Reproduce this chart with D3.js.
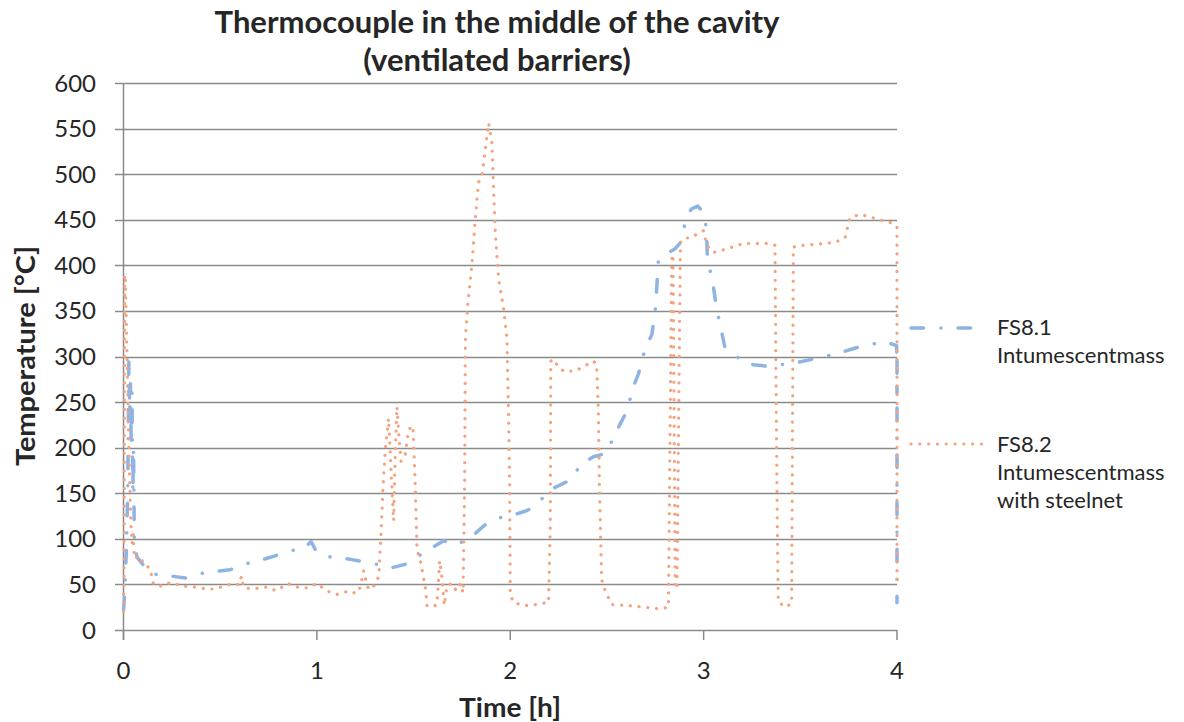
<!DOCTYPE html>
<html>
<head>
<meta charset="utf-8">
<script src="https://cdn.jsdelivr.net/npm/d3@7/dist/d3.min.js"></script>
<style>
  html, body { margin: 0; padding: 0; background: #ffffff; }
  svg { display: block; }
  text { font-family: Lato, "Open Sans", sans-serif; fill: #262626; }
</style>
</head>
<body>
<svg id="chart" width="1184" height="722"></svg>
<script>
// Axis ticks
const timeTicks = [0, 1, 2, 3, 4];
const tempTicks = [0, 50, 100, 150, 200, 250, 300, 350, 400, 450, 500, 550, 600];

// FS8.1 Intumescentmass (time in hours, temperature in °C)
const fs81Time = [0, 0.005, 0.01, 0.015, 0.022, 0.028, 0.032, 0.036, 0.04, 0.044, 0.048, 0.052, 0.056,
  0.06, 0.07, 0.1, 0.14, 0.2, 0.25, 0.32, 0.4, 0.47, 0.55, 0.64, 0.7, 0.78, 0.86, 0.93, 0.97,
  1.0, 1.07, 1.16, 1.24, 1.31, 1.38, 1.457, 1.5, 1.578, 1.655, 1.716, 1.793, 1.862, 1.914,
  2.0, 2.086, 2.138, 2.198, 2.276, 2.319, 2.361, 2.43, 2.5, 2.534, 2.603, 2.637, 2.663, 2.697,
  2.732, 2.749, 2.758, 2.766, 2.8, 2.852, 2.88, 2.913, 2.938, 2.97, 3.007, 3.016, 3.02, 3.045,
  3.065, 3.09, 3.11, 3.154, 3.2, 3.257, 3.344, 3.395, 3.472, 3.584, 3.705, 3.826, 3.938, 3.998,
  4.0, 4.0, 4.0, 4.0];
const fs81Temp = [22, 35, 60, 90, 150, 300, 240, 270, 200, 260, 150, 200, 100,
  90, 80, 72, 62, 60, 59, 57, 62, 64, 66, 73, 76, 81, 87, 89, 97,
  85, 80, 78, 75, 72, 68, 72, 78, 88, 98, 93, 101, 114, 122,
  125, 131, 137, 153, 161, 165, 181, 190, 194, 212, 240, 267, 281, 308,
  324, 348, 377, 405, 412, 418, 425, 454, 462, 465, 456, 430, 405, 385,
  355, 330, 310, 304, 294, 291, 289, 291, 293, 298, 304, 312, 316, 312,
  260, 300, 150, 30];

// FS8.2 Intumescentmass with steelnet
const fs82Time = [0, 0.003, 0.006, 0.01, 0.015, 0.02, 0.025, 0.03, 0.035, 0.04, 0.045, 0.05, 0.055,
  0.06, 0.07, 0.08, 0.1, 0.12, 0.137, 0.155, 0.2, 0.24, 0.31, 0.37, 0.43, 0.47, 0.55, 0.6, 0.61,
  0.62, 0.66, 0.74, 0.79, 0.85, 0.9, 0.95, 1.0, 1.05, 1.104, 1.139, 1.164, 1.204, 1.225, 1.242,
  1.26, 1.273, 1.302, 1.32, 1.332, 1.342, 1.354, 1.371, 1.385, 1.397, 1.405, 1.414, 1.425, 1.435,
  1.457, 1.475, 1.497, 1.509, 1.518, 1.535, 1.561, 1.569, 1.595, 1.621, 1.635, 1.647, 1.659, 1.673,
  1.699, 1.721, 1.742, 1.756, 1.764, 1.768, 1.78, 1.802, 1.819, 1.836, 1.854, 1.871, 1.888, 1.905,
  1.914, 1.923, 1.94, 1.966, 1.983, 1.991, 1.997, 2.0, 2.017, 2.069, 2.112, 2.155, 2.198, 2.207,
  2.21, 2.224, 2.25, 2.284, 2.344, 2.361, 2.43, 2.447, 2.456, 2.461, 2.473, 2.491, 2.525, 2.603,
  2.689, 2.775, 2.818, 2.835, 2.842, 2.853, 2.862, 2.88, 2.9, 2.93, 2.964, 2.999, 3.016, 3.05,
  3.119, 3.205, 3.326, 3.369, 3.374, 3.381, 3.386, 3.421, 3.455, 3.46, 3.464, 3.516, 3.636, 3.688,
  3.731, 3.757, 3.808, 3.894, 3.98, 4.0, 4.0];
const fs82Temp = [20, 60, 390, 385, 330, 280, 230, 180, 140, 110, 95, 105, 85,
  78, 80, 75, 76, 70, 68, 50, 48, 52, 48, 47, 45, 45, 50, 50, 59,
  47, 45, 47, 43, 51, 47, 46, 51, 43, 39, 41, 43, 40, 47, 65,
  48, 44, 50, 59, 108, 157, 198, 232, 170, 120, 190, 245, 210, 185,
  192, 220, 224, 157, 88, 76, 47, 27, 25, 28, 76, 57, 27, 49,
  51, 43, 51, 41, 157, 320, 356, 401, 450, 491, 499, 527, 556, 535,
  483, 434, 385, 352, 320, 238, 157, 39, 30, 27, 27, 29, 30, 116,
  295, 297, 288, 283, 285, 287, 295, 291, 238, 157, 55, 43, 28, 27,
  25, 23, 25, 405, 412, 47, 45, 425, 430, 430, 434, 438, 422, 414,
  418, 424, 424, 422, 279, 116, 31, 25, 29, 238, 420, 422, 424, 426,
  430, 452, 456, 451, 446, 442, 50];

const seriesNames = [["FS8.1", "Intumescentmass"], ["FS8.2", "Intumescentmass", "with steelnet"]];
const titleLines = ["Thermocouple in the middle of the cavity", "(ventilated barriers)"];

const blue = "#8db4e2";
const orange = "#f5a27f";
const gridColor = "#8a8a8a";

const svg = d3.select("#chart");

const x = d3.scaleLinear().domain([0, 4]).range([123.5, 897]);
const y = d3.scaleLinear().domain([0, 600]).range([630, 83]);

// Horizontal gridlines (each extends left as the y tick mark)
svg.append("g").selectAll("line").data(tempTicks).join("line")
  .attr("x1", 115).attr("x2", 897)
  .attr("y1", d => Math.round(y(d)) + 0.5).attr("y2", d => Math.round(y(d)) + 0.5)
  .attr("stroke", gridColor).attr("stroke-width", 1.5);

// Vertical axis line
svg.append("line")
  .attr("x1", x(0)).attr("x2", x(0)).attr("y1", y(600)).attr("y2", y(0) + 10)
  .attr("stroke", gridColor).attr("stroke-width", 1.5);

// X tick marks
svg.append("g").selectAll("line").data(timeTicks).join("line")
  .attr("x1", d => x(d)).attr("x2", d => x(d))
  .attr("y1", y(0)).attr("y2", y(0) + 10)
  .attr("stroke", gridColor).attr("stroke-width", 1.5);

// Y tick labels
svg.append("g").selectAll("text").data(tempTicks).join("text")
  .attr("x", 96).attr("y", d => y(d) + 8.5)
  .attr("text-anchor", "end")
  .style("font-size", "24px")
  .text(d => d);

// X tick labels
svg.append("g").selectAll("text").data(timeTicks).join("text")
  .attr("x", d => x(d)).attr("y", 679)
  .attr("text-anchor", "middle")
  .style("font-size", "24px")
  .text(d => d);

// Axis titles
svg.append("text")
  .attr("x", 510).attr("y", 717)
  .attr("text-anchor", "middle")
  .attr("textLength", 102).attr("lengthAdjust", "spacingAndGlyphs")
  .style("font-size", "26px").style("font-weight", "bold")
  .text("Time [h]");

svg.append("text")
  .attr("transform", "translate(35,356) rotate(-90)")
  .attr("text-anchor", "middle")
  .attr("textLength", 220).attr("lengthAdjust", "spacingAndGlyphs")
  .style("font-size", "26px").style("font-weight", "bold")
  .text("Temperature [°C]");

// Chart title
svg.append("g").selectAll("text").data(titleLines).join("text")
  .attr("x", 497).attr("y", (d, i) => 33 + i * 38)
  .attr("text-anchor", "middle")
  .style("font-size", "31px").style("font-weight", "bold")
  .text(d => d);

// Series lines
const line = d3.line().x(d => x(d[0])).y(d => y(d[1]));

const fs81 = d3.zip(fs81Time, fs81Temp);
const fs82 = d3.zip(fs82Time, fs82Temp);

const blueStyle = { color: blue, width: 3.5, dash: "12.5,17.5,0.1,17" };
const orangeStyle = { color: orange, width: 3.2, dash: "0.1,8.7" };

svg.append("path").datum(fs81)
  .attr("d", line).attr("fill", "none")
  .attr("stroke", blueStyle.color).attr("stroke-width", blueStyle.width)
  .attr("stroke-linecap", "round").attr("stroke-linejoin", "round")
  .attr("stroke-dasharray", blueStyle.dash);

svg.append("path").datum(fs82)
  .attr("d", line).attr("fill", "none")
  .attr("stroke", orangeStyle.color).attr("stroke-width", orangeStyle.width)
  .attr("stroke-linecap", "round").attr("stroke-linejoin", "round")
  .attr("stroke-dasharray", orangeStyle.dash);

// Legend
const legend = svg.append("g");
const legendRows = [
  { style: blueStyle, lineY: 328, textY: 335, x2: 974 },
  { style: orangeStyle, lineY: 444, textY: 452, x2: 982 }
];
legendRows.forEach((r, i) => {
  legend.append("line")
    .attr("x1", 911).attr("x2", r.x2).attr("y1", r.lineY).attr("y2", r.lineY)
    .attr("stroke", r.style.color).attr("stroke-width", r.style.width)
    .attr("stroke-linecap", "round").attr("stroke-dasharray", r.style.dash);
  legend.append("g").selectAll("text").data(seriesNames[i]).join("text")
    .attr("x", 997).attr("y", (d, j) => r.textY + j * 28)
    .style("font-size", "22px")
    .text(d => d);
});
</script>
</body>
</html>
